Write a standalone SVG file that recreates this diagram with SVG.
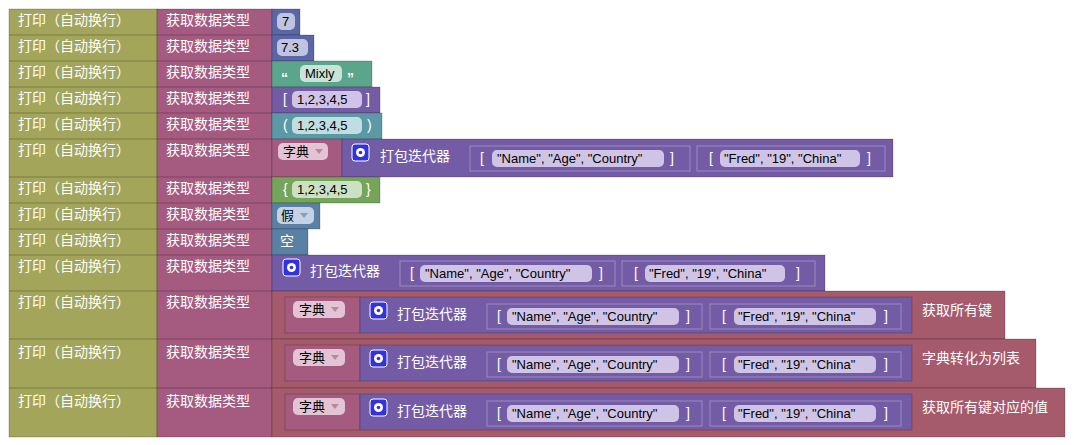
<svg xmlns="http://www.w3.org/2000/svg" width="1074" height="445" viewBox="0 0 1074 445">
<defs>
<g id="gearI"><rect x="0" y="0" width="17" height="17" rx="3" fill="#3333dd" stroke="#fff" stroke-width="1"/><circle cx="8.5" cy="8.5" r="4.5" fill="#fff"/><circle cx="8.5" cy="8.5" r="1.8" fill="#3333dd"/></g>
</defs>
<style>
text{font-family:"Liberation Sans","Noto Sans CJK SC",sans-serif;font-size:14px;fill:#fff}
.d{fill:#000;font-size:13px}
.b{stroke:rgba(0,0,0,0.2);stroke-width:1}
.pr{fill:#a3a55b}.gt{fill:#a55b80}.num{fill:#5b67a5}.str{fill:#5ba58c}.lst{fill:#745ba5}.tup{fill:#5b99a5}.set{fill:#74a55b}.bool{fill:#5b80a5}.dm{fill:#a55b6c}.dd{fill:#a55b80}
.p{rx:5;ry:5}
.pn{fill:#c0c4e0}.ps{fill:#c8e4d8}.pl{fill:#cfc4e6}.pt{fill:#c0dde2}.pg{fill:#cce0c4}.pb{fill:#c4d2e4}.pd{fill:#e2c4d4}
.inner{fill:#745ba5;stroke:rgba(255,255,255,0.3)}
.arr{fill:#a55b80;opacity:0.6}
</style>
<g id="prints">
<rect class="pr b" x="9" y="9" width="148" height="428"/>
</g>
<g id="print-labels">
<text x="18" y="25">打印（自动换行）</text><text x="18" y="51">打印（自动换行）</text><text x="18" y="77">打印（自动换行）</text><text x="18" y="103">打印（自动换行）</text><text x="18" y="129">打印（自动换行）</text><text x="18" y="155">打印（自动换行）</text><text x="18" y="193">打印（自动换行）</text><text x="18" y="219">打印（自动换行）</text><text x="18" y="245">打印（自动换行）</text><text x="18" y="271">打印（自动换行）</text><text x="18" y="307">打印（自动换行）</text><text x="18" y="357">打印（自动换行）</text><text x="18" y="406">打印（自动换行）</text>
</g>
<g id="gettype">
<rect class="gt b" x="157" y="9" width="115" height="428"/>
<g stroke="rgba(0,0,0,0.25)"><line x1="9" y1="35" x2="272" y2="35"/><line x1="9" y1="61" x2="272" y2="61"/><line x1="9" y1="87" x2="272" y2="87"/><line x1="9" y1="113" x2="272" y2="113"/><line x1="9" y1="139" x2="272" y2="139"/><line x1="9" y1="177" x2="272" y2="177"/><line x1="9" y1="203" x2="272" y2="203"/><line x1="9" y1="229" x2="272" y2="229"/><line x1="9" y1="255" x2="272" y2="255"/><line x1="9" y1="291" x2="272" y2="291"/><line x1="9" y1="339" x2="272" y2="339"/><line x1="9" y1="388" x2="272" y2="388"/></g>
<text x="166" y="25">获取数据类型</text><text x="166" y="51">获取数据类型</text><text x="166" y="77">获取数据类型</text><text x="166" y="103">获取数据类型</text><text x="166" y="129">获取数据类型</text><text x="166" y="155">获取数据类型</text><text x="166" y="193">获取数据类型</text><text x="166" y="219">获取数据类型</text><text x="166" y="245">获取数据类型</text><text x="166" y="271">获取数据类型</text><text x="166" y="307">获取数据类型</text><text x="166" y="357">获取数据类型</text><text x="166" y="406">获取数据类型</text>
</g>
<g id="v1"><rect class="num b" x="272" y="9" width="28" height="26"/><rect class="pn p" x="277" y="13" width="18" height="17"/><text class="d" x="282" y="26">7</text></g>
<g id="v2"><rect class="num b" x="272" y="35" width="42" height="26"/><rect class="pn p" x="277" y="39" width="31" height="17"/><text class="d" x="281" y="52">7.3</text></g>
<g id="v3"><rect class="str b" x="272" y="61" width="100" height="26"/><text x="281" y="83" font-size="22" font-weight="bold" font-family="Liberation Serif">“</text><rect class="ps p" x="300" y="65" width="42" height="17"/><text class="d" x="305" y="78">Mixly</text><text x="347" y="83" font-size="22" font-weight="bold" font-family="Liberation Serif">”</text></g>
<g id="v4"><rect class="lst b" x="272" y="87" width="108" height="26"/><text x="283" y="104">[</text><rect class="pl p" x="292" y="91" width="70" height="17"/><text class="d" x="297" y="104">1,2,3,4,5</text><text x="366" y="104">]</text></g>
<g id="v5"><rect class="tup b" x="272" y="113" width="110" height="26"/><text x="283" y="130">(</text><rect class="pt p" x="292" y="117" width="70" height="17"/><text class="d" x="297" y="130">1,2,3,4,5</text><text x="367" y="130">)</text></g>
<g id="v6">
<rect class="dd b" x="272" y="139" width="70" height="38"/><rect class="pd p" x="278" y="143" width="50" height="17"/><text class="d" x="283" y="156">字典</text><polygon class="arr" points="315,149 323,149 319,154"/>
<rect class="lst b" x="342" y="139" width="551" height="38"/><use href="#gearI" x="352" y="144"/><text x="380" y="161">打包迭代器</text>
<rect class="inner" x="470" y="146" width="220" height="25"/><text x="480" y="163">[</text><rect class="pl p" x="492" y="150" width="172" height="17"/><text class="d" x="497" y="163">"Name", "Age", "Country"</text><text x="670" y="163">]</text>
<rect class="inner" x="697" y="146" width="188" height="25"/><text x="709" y="163">[</text><rect class="pl p" x="720" y="150" width="140" height="17"/><text class="d" x="724" y="163">"Fred", "19", "China"</text><text x="867" y="163">]</text>
</g>
<g id="v7"><rect class="set b" x="272" y="177" width="108" height="26"/><text x="283" y="194">{</text><rect class="pg p" x="292" y="181" width="70" height="17"/><text class="d" x="297" y="194">1,2,3,4,5</text><text x="366" y="194">}</text></g>
<g id="v8"><rect class="bool b" x="272" y="203" width="48" height="26"/><rect class="pb p" x="277" y="207" width="37" height="17"/><text class="d" x="281" y="220">假</text><polygon points="300,213 308,213 304,218" fill="#5b80a5" opacity="0.6"/></g>
<g id="v9"><rect class="bool b" x="272" y="229" width="36" height="26"/><text x="280" y="246">空</text></g>
<g id="v10">
<rect class="lst b" x="272" y="255" width="553" height="36"/><use href="#gearI" x="283" y="259"/><text x="310" y="276">打包迭代器</text>
<rect class="inner" x="400" y="261" width="215" height="25"/><text x="410" y="278">[</text><rect class="pl p" x="420" y="265" width="172" height="17"/><text class="d" x="425" y="278">"Name", "Age", "Country"</text><text x="599" y="278">]</text>
<rect class="inner" x="622" y="261" width="193" height="25"/><text x="634" y="278">[</text><rect class="pl p" x="645" y="265" width="140" height="17"/><text class="d" x="649" y="278">"Fred", "19", "China"</text><text x="796" y="278">]</text>
</g>
<g id="v11">
<rect class="dm b" x="272" y="291" width="733" height="48"/>
<rect class="dd b" x="285" y="297" width="75" height="36"/><rect class="pd p" x="293" y="301" width="52" height="17"/><text class="d" x="299" y="314">字典</text><polygon class="arr" points="331,307 339,307 335,312"/>
<rect class="lst b" x="360" y="297" width="552" height="36"/><use href="#gearI" x="370" y="302"/><text x="397" y="319">打包迭代器</text>
<rect class="inner" x="487" y="304" width="215" height="25"/><text x="497" y="321">[</text><rect class="pl p" x="507" y="308" width="172" height="17"/><text class="d" x="512" y="321">"Name", "Age", "Country"</text><text x="686" y="321">]</text>
<rect class="inner" x="710" y="304" width="191" height="25"/><text x="722" y="321">[</text><rect class="pl p" x="734" y="308" width="142" height="17"/><text class="d" x="738" y="321">"Fred", "19", "China"</text><text x="884" y="321">]</text>
<text x="922" y="315">获取所有键</text>
</g>
<g id="v12">
<rect class="dm b" x="272" y="339" width="764" height="49"/>
<rect class="dd b" x="285" y="345" width="75" height="36"/><rect class="pd p" x="293" y="349" width="52" height="17"/><text class="d" x="299" y="362">字典</text><polygon class="arr" points="331,355 339,355 335,360"/>
<rect class="lst b" x="360" y="345" width="552" height="36"/><use href="#gearI" x="370" y="350"/><text x="397" y="367">打包迭代器</text>
<rect class="inner" x="487" y="352" width="215" height="25"/><text x="497" y="369">[</text><rect class="pl p" x="507" y="356" width="172" height="17"/><text class="d" x="512" y="369">"Name", "Age", "Country"</text><text x="686" y="369">]</text>
<rect class="inner" x="710" y="352" width="191" height="25"/><text x="722" y="369">[</text><rect class="pl p" x="734" y="356" width="142" height="17"/><text class="d" x="738" y="369">"Fred", "19", "China"</text><text x="884" y="369">]</text>
<text x="922" y="363">字典转化为列表</text>
</g>
<g id="v13">
<rect class="dm b" x="272" y="388" width="793" height="49"/>
<rect class="dd b" x="285" y="394" width="75" height="36"/><rect class="pd p" x="293" y="398" width="52" height="17"/><text class="d" x="299" y="411">字典</text><polygon class="arr" points="331,404 339,404 335,409"/>
<rect class="lst b" x="360" y="394" width="552" height="36"/><use href="#gearI" x="370" y="399"/><text x="397" y="416">打包迭代器</text>
<rect class="inner" x="487" y="401" width="215" height="25"/><text x="497" y="418">[</text><rect class="pl p" x="507" y="405" width="172" height="17"/><text class="d" x="512" y="418">"Name", "Age", "Country"</text><text x="686" y="418">]</text>
<rect class="inner" x="710" y="401" width="191" height="25"/><text x="722" y="418">[</text><rect class="pl p" x="734" y="405" width="142" height="17"/><text class="d" x="738" y="418">"Fred", "19", "China"</text><text x="884" y="418">]</text>
<text x="922" y="412">获取所有键对应的值</text>
</g>
<g id="connectors"></g>
</svg>
